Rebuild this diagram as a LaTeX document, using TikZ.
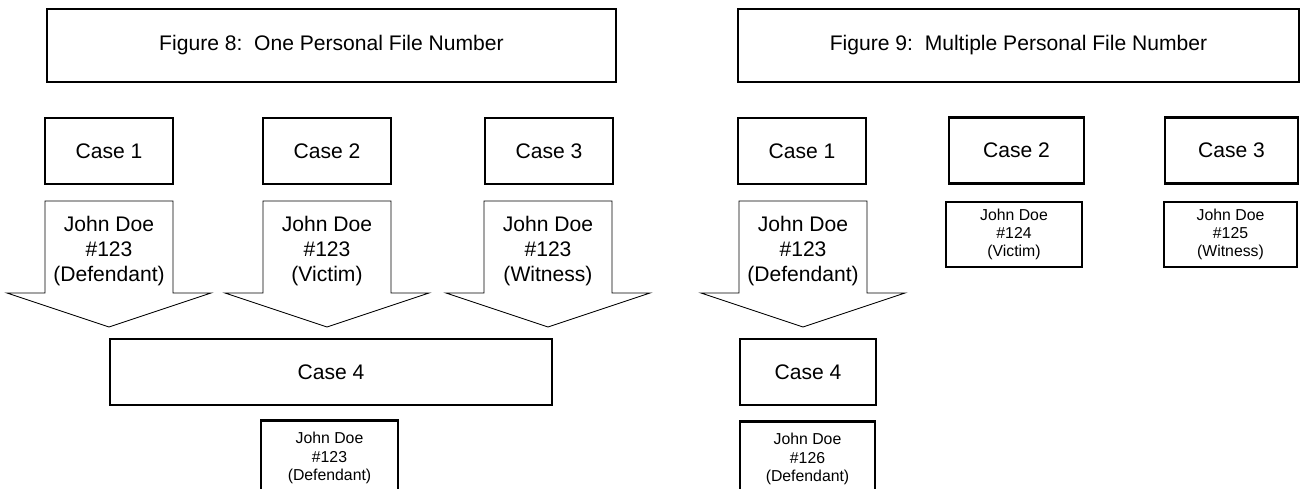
\documentclass[tikz,border=0pt]{standalone}
\usepackage{fontspec}
\setmainfont{Liberation Sans}
\usetikzlibrary{positioning}

\tikzset{
  titlebox/.style={draw, line width=1.2pt, minimum height=1.46cm, font=\fontsize{12}{14}\selectfont},
  casebox/.style={draw, line width=1.2pt, minimum height=1.32cm, font=\fontsize{12}{14}\selectfont},
  personbox/.style={draw, line width=1.2pt, minimum height=1.3cm, align=center, inner sep=1pt,
    font=\fontsize{9}{10.4}\selectfont},
  arrowshape/.style={draw, line width=0.5pt, fill=white},
  arrowtext/.style={align=center, font=\fontsize{12}{14.2}\selectfont}
}

\begin{document}
\begin{tikzpicture}[x=0.02cm, y=-0.02cm]
  \clip (0,0) rectangle (1301,489);
  \fill[white] (0,0) rectangle (1301,489);

  % figure 8
  \node[titlebox, minimum width=11.38cm] (title8) at (331.5,45.5)
    {Figure 8:\ \ One Personal File Number};
  \node[casebox, minimum width=2.56cm] (lcaseone) at (109,151) {Case 1};
  \node[casebox, minimum width=2.56cm] (lcasetwo) at (327,151) {Case 2};
  \node[casebox, minimum width=2.56cm] (lcasethree) at (549,151) {Case 3};
  \node[casebox, minimum width=8.84cm] (lcasefour) at (331,372) {Case 4};
  \node[personbox, minimum width=2.74cm, minimum height=1.5cm] (lperson) at (329.5,458)
    {John Doe\\\#123\\(Defendant)};

  % figure 9
  \node[titlebox, minimum width=11.22cm] (title9) at (1018.5,45.5)
    {Figure 9:\ \ Multiple Personal File Number};
  \node[casebox, minimum width=2.56cm] (rcaseone) at (802,151) {Case 1};
  \node[casebox, minimum width=2.7cm] (rcasetwo) at (1016.5,150.5) {Case 2};
  \node[casebox, minimum width=2.66cm] (rcasethree) at (1231.5,150.5) {Case 3};
  \node[personbox, minimum width=2.72cm] (rpersontwo) at (1014,234.5)
    {John Doe\\\#124\\(Victim)};
  \node[personbox, minimum width=2.66cm] (rpersonthree) at (1230.5,234.5)
    {John Doe\\\#125\\(Witness)};
  \node[casebox, minimum width=2.72cm] (rcasefour) at (808,372) {Case 4};
  \node[personbox, minimum width=2.7cm, minimum height=1.5cm] (rperson) at (807.5,459)
    {John Doe\\\#126\\(Defendant)};

  % block arrows
  \foreach \x/\role [count=\i] in {109/Defendant, 327/Victim, 548/Witness, 803/Defendant} {
    \draw[arrowshape] (\x-64,201) -- ++(128,0) -- ++(0,92) -- ++(38,0)
      -- (\x,327) -- (\x-102,293) -- ++(38,0) -- cycle;
    \node[arrowtext] (arrow\i) at (\x,251) {John Doe\\\#123\\(\role)};
  }
\end{tikzpicture}
\end{document}
